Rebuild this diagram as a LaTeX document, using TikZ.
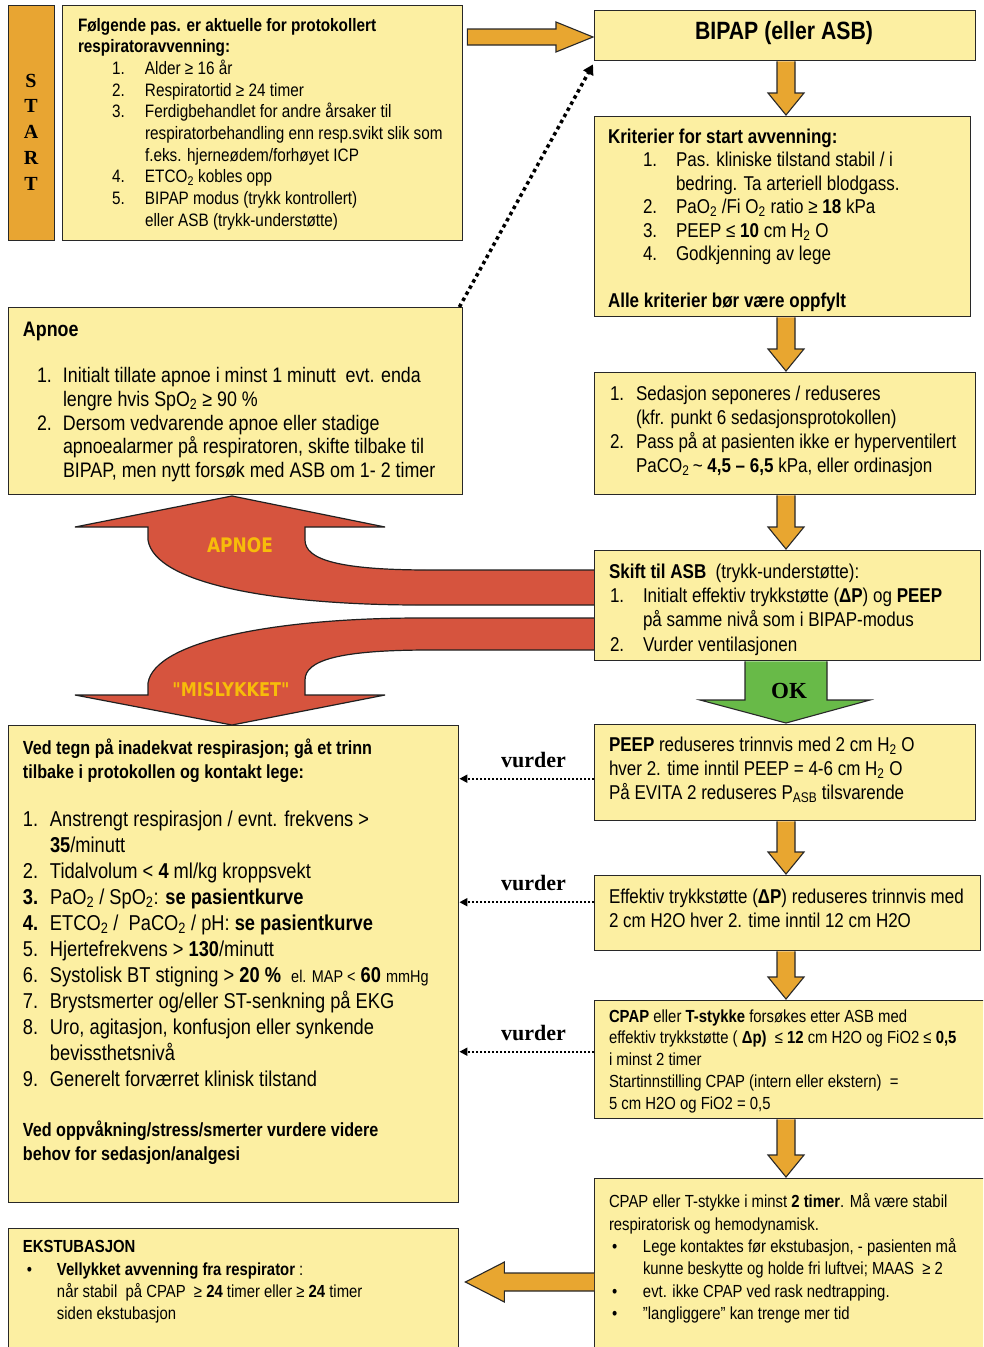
\documentclass[tikz,border=0pt]{standalone}
\usepackage{fontspec}
\setmainfont{Liberation Sans}[FakeStretch=0.85]
\newfontfamily\timesf{Liberation Serif}
\newfontfamily\lblf{DejaVu Sans}[FakeStretch=0.85]
\usetikzlibrary{calc,arrows.meta}
\definecolor{yel}{RGB}{252,239,162}
\definecolor{bord}{RGB}{40,40,40}
\definecolor{org}{RGB}{232,166,48}
\definecolor{startc}{RGB}{232,165,50}
\definecolor{redc}{RGB}{214,84,62}
\definecolor{grn}{RGB}{104,186,72}
\definecolor{lblc}{RGB}{247,188,10}
\newcommand\fz[2]{\fontsize{#1}{#2}\selectfont}
\newcommand\numit[3]{\hspace*{#1pt}\makebox[#2pt][l]{#3}}
\newcommand\ind[1]{\hspace*{#1pt}}
\newcommand\subt[1]{\textsubscript{#1}}
\newcommand\dq{\symbol{34}}
\tikzset{
  box/.style={draw=bord, fill=yel, line width=1.4pt, inner sep=0pt, anchor=north west},
  txt/.style={anchor=north west, inner sep=0pt, outer sep=0pt, align=left},
  oarr/.style={draw=bord, fill=org, line width=1.1pt, line join=miter},
  garr/.style={draw=bord, fill=grn, line width=1.1pt},
  rarr/.style={draw=bord!80!black, fill=redc, line width=1.2pt},
  vur/.style={line width=1.8pt, dash pattern=on 2pt off 2pt, -{Triangle[width=8pt,length=8pt]}},
  dotl/.style={line width=3.5pt, dash pattern=on 3.5pt off 3.5pt, -{Triangle[width=11pt,length=10pt]}},
  vurlbl/.style={font=\timesf\bfseries\fz{22}{24}, above=7pt, pos=0.45}
}
\newcommand\downarr[2]{\draw[oarr] let \p1=(#1.south -| ax), \p2=(#2.north -| ax) in
  (\x1-9pt,\y1) -- (\x1-9pt,\y2+23pt) -- (\x1-18pt,\y2+23pt) -- (\x1,\y2+1pt) -- (\x1+18pt,\y2+23pt) -- (\x1+9pt,\y2+23pt) -- (\x1+9pt,\y1);}
\begin{document}
\begin{tikzpicture}[x=1pt,y=-1pt]
\clip (0,0) rectangle (983,1347);
\fill[white] (0,0) rectangle (983,1347);
\coordinate (ax) at (786,0);
\coordinate (ya) at (0,37);
\coordinate (yb) at (0,1282);

% red arrows (drawn first, covered by the ASB box)
\draw[rarr] (600,570) -- (430,570) .. controls (340,570) and (305,560) .. (305,540) -- (305,527)
  -- (385,527) -- (232,496) -- (75,527) -- (148,527) -- (148,540)
  .. controls (155,585) and (280,605) .. (420,605) -- (600,605);
\draw[rarr] (600,650) -- (430,650) .. controls (340,650) and (305,660) .. (305,680) -- (305,695)
  -- (385,695) -- (232,725) -- (75,695) -- (148,695) -- (148,683)
  .. controls (155,640) and (280,618) .. (420,618) -- (600,618);
\node[font=\lblf\bfseries\fz{20}{22}, text=lblc] (lapnoe) at (240,545) {APNOE};
\node[font=\lblf\bfseries\fz{19}{22}, text=lblc] (lmis) at (231,690) {\dq MISLYKKET\dq};

% boxes
\node[box, fill=startc, minimum width=46pt, minimum height=235pt] (start) at (8,5) {};
\node[txt, anchor=north, align=center, font=\timesf\bfseries\fz{20}{25.7}] (tstart) at (31,74) {S\\T\\A\\R\\T};

\node[box, minimum width=400pt, minimum height=235pt] (b1) at (62,5) {};
\node[txt, font=\fz{18}{21.7}] (tb1) at (78,18) {%
\textbf{Følgende pas. er aktuelle for protokollert}\\
\textbf{respiratoravvenning:}\\
\numit{34}{33}{1.}Alder ≥ 16 år\\
\numit{34}{33}{2.}Respiratortid ≥ 24 timer\\
\numit{34}{33}{3.}Ferdigbehandlet for andre årsaker til\\
\ind{67}respiratorbehandling enn resp.svikt slik som\\
\ind{67}f.eks. hjerneødem/forhøyet ICP\\
\numit{34}{33}{4.}ETCO\subt{2} kobles opp\\
\numit{34}{33}{5.}BIPAP modus (trykk kontrollert)\\
\ind{67}eller ASB (trykk-understøtte)};

\node[box, minimum width=381pt, minimum height=50pt] (bipap) at (594,10) {};
\node[font=\bfseries\fz{25}{28}] (tbipap) at (784,33) {BIPAP (eller ASB)};

\node[box, minimum width=376pt, minimum height=200pt] (krit) at (594,116) {};
\node[txt, font=\fz{20}{23.5}] (tkrit) at (608,128.6) {%
\textbf{Kriterier for start avvenning:}\\
\numit{35}{33}{1.}Pas. kliniske tilstand stabil / i\\
\ind{68}bedring. Ta arteriell blodgass.\\
\numit{35}{33}{2.}PaO\subt{2} /Fi O\subt{2} ratio ≥ \textbf{18} kPa\\
\numit{35}{33}{3.}PEEP ≤ \textbf{10} cm H\subt{2} O\\
\numit{35}{33}{4.}Godkjenning av lege};
\node[txt, font=\bfseries\fz{20}{23.5}] (tkrit2) at (608,292.6) {Alle kriterier bør være oppfylt};

\node[box, minimum width=454pt, minimum height=187pt] (apnoe) at (8,307) {};
\node[txt, font=\bfseries\fz{21}{23.75}] (tapnoe) at (23,322) {Apnoe};
\node[txt, font=\fz{21}{23.75}] (tapnoe2) at (23,367.5) {%
\numit{14}{26}{1.}Initialt tillate apnoe i minst 1 minutt\ \ evt. enda\\
\ind{40}lengre hvis SpO\subt{2} ≥ 90 \%\\
\numit{14}{26}{2.}Dersom vedvarende apnoe eller stadige\\
\ind{40}apnoealarmer på respiratoren, skifte tilbake til\\
\ind{40}BIPAP, men nytt forsøk med ASB om 1- 2 timer};

\node[box, minimum width=381pt, minimum height=122pt] (sed) at (594,372) {};
\node[txt, font=\fz{20}{24}] (tsed) at (610,385.6) {%
\numit{0}{26}{1.}Sedasjon seponeres / reduseres\\
\ind{26}(kfr. punkt 6 sedasjonsprotokollen)\\
\numit{0}{26}{2.}Pass på at pasienten ikke er hyperventilert\\
\ind{26}PaCO\subt{2}\,\textasciitilde\ \textbf{4,5 -- 6,5} kPa, eller ordinasjon};

\node[box, minimum width=386pt, minimum height=110pt] (skift) at (594,550) {};
\node[txt, font=\fz{20}{24.3}] (tskift) at (609,563.6) {%
\textbf{Skift til ASB}\ \ (trykk-understøtte):\\
\numit{1}{33}{1.}Initialt effektiv trykkstøtte (\textbf{ΔP}) og \textbf{PEEP}\\
\ind{34}på samme nivå som i BIPAP-modus\\
\numit{1}{33}{2.}Vurder ventilasjonen};

\node[box, minimum width=381pt, minimum height=96pt] (peep) at (594,724) {};
\node[txt, font=\fz{20}{24}] (tpeep) at (609,736.6) {%
\textbf{PEEP} reduseres trinnvis med 2 cm H\subt{2} O\\
hver 2. time inntil PEEP = 4-6 cm H\subt{2} O\\
På EVITA 2 reduseres P\subt{ASB} tilsvarende};

\node[box, minimum width=386pt, minimum height=75pt] (eff) at (594,875) {};
\node[txt, font=\fz{20}{24}] (teff) at (609,888.6) {%
Effektiv trykkstøtte (\textbf{ΔP}) reduseres trinnvis med\\
2 cm H2O hver 2. time inntil 12 cm H2O};

\node[box, minimum width=392pt, minimum height=118pt] (cpap) at (594,1000) {};
\node[txt, font=\fz{17.5}{21.8}] (tcpap) at (609,1009.5) {%
\textbf{CPAP} eller \textbf{T-stykke} forsøkes etter ASB med\\
effektiv trykkstøtte ( \textbf{Δp)}\ \ ≤ \textbf{12} cm H2O og FiO2 ≤ \textbf{0,5}\\
i minst 2 timer\\
Startinnstilling CPAP (intern eller ekstern)\ \ =\\
5 cm H2O og FiO2 = 0,5};

\node[box, minimum width=392pt, minimum height=180pt] (cpap2) at (594,1178) {};
\node[txt, font=\fz{17.5}{22.4}] (tcpap2) at (609,1193.5) {%
CPAP eller T-stykke i minst \textbf{2 timer}. Må være stabil\\
respiratorisk og hemodynamisk.\\
\numit{3}{31}{•}Lege kontaktes før ekstubasjon, - pasienten må\\
\ind{34}kunne beskytte og holde fri luftvei; MAAS\ \ ≥ 2\\
\numit{3}{31}{•}evt. ikke CPAP ved rask nedtrapping.\\
\numit{3}{31}{•}\dq langliggere\dq{} kan trenge mer tid};

\node[box, minimum width=450pt, minimum height=477pt] (big) at (8,725) {};
\node[txt, font=\bfseries\fz{19}{24}] (tbig1) at (23,739) {%
Ved tegn på inadekvat respirasjon; gå et trinn\\
tilbake i protokollen og kontakt lege:};
\node[txt, font=\fz{21.5}{26}] (tbig2) at (23,811) {%
\numit{0}{27}{1.}Anstrengt respirasjon / evnt. frekvens >\\
\ind{27}\textbf{35}/minutt\\
\numit{0}{27}{2.}Tidalvolum < \textbf{4} ml/kg kroppsvekt\\
\numit{0}{27}{\textbf{3.}}PaO\subt{2} / SpO\subt{2}: \textbf{se pasientkurve}\\
\numit{0}{27}{\textbf{4.}}ETCO\subt{2} /\ \ PaCO\subt{2} / pH: \textbf{se pasientkurve}\\
\numit{0}{27}{5.}Hjertefrekvens > \textbf{130}/minutt\\
\numit{0}{27}{6.}Systolisk BT stigning > \textbf{20 \%}\ \ {\fz{17}{26}el. MAP <} \textbf{60} {\fz{17}{26}mmHg}\\
\numit{0}{27}{7.}Brystsmerter og/eller ST-senkning på EKG\\
\numit{0}{27}{8.}Uro, agitasjon, konfusjon eller synkende\\
\ind{27}bevissthetsnivå\\
\numit{0}{27}{9.}Generelt forværret klinisk tilstand};
\node[txt, font=\bfseries\fz{19}{24}] (tbig3) at (23,1121) {%
Ved oppvåkning/stress/smerter vurdere videre\\
behov for sedasjon/analgesi};

\node[box, minimum width=450pt, minimum height=130pt] (ekst) at (8,1228) {};
\node[txt, font=\fz{17.5}{22.3}] (tekst) at (23,1240.5) {%
\textbf{EKSTUBASJON}\\
\numit{4}{30}{•}\textbf{Vellykket avvenning fra respirator} :\\
\ind{34}når stabil\ \ på CPAP\ \ ≥ \textbf{24} timer eller ≥ \textbf{24} timer\\
\ind{34}siden ekstubasjon};

% OK arrow
\draw[garr] let \p1=(skift.south -| ax), \p2=(peep.north -| ax) in
  (\x1-41pt,\y1) -- (\x1-41pt,\y2+24pt) -- (\x1-86pt,\y2+24pt) -- (\x1,\y2+1pt) -- (\x1+84pt,\y2+24pt) -- (\x1+41pt,\y2+24pt) -- (\x1+41pt,\y1);
\node[font=\timesf\bfseries\fz{23}{25}] (tok) at (789,691) {OK};

% orange connectors
\draw[oarr] let \p1=(b1.east |- ya), \p2=(bipap.west |- ya) in
  (\x1+4pt,\y1+8pt) -- (\x2-38pt,\y1+8pt) -- (\x2-38pt,\y1+15pt) -- (\x2-1pt,\y1) -- (\x2-38pt,\y1-15pt) -- (\x2-38pt,\y1-8pt) -- (\x1+4pt,\y1-8pt) -- cycle;
\downarr{bipap}{krit}
\downarr{krit}{sed}
\downarr{sed}{skift}
\downarr{peep}{eff}
\downarr{eff}{cpap}
\downarr{cpap}{cpap2}
\draw[oarr] let \p1=(cpap2.west |- yb), \p2=(ekst.east |- yb) in
  (\x1,\y1+9pt) -- (\x2+45pt,\y1+9pt) -- (\x2+45pt,\y1+20pt) -- (\x2+6pt,\y1) -- (\x2+45pt,\y1-20pt) -- (\x2+45pt,\y1-9pt) -- (\x1,\y1-9pt);

% dotted connectors
\draw[dotl] ([xshift=-4pt]apnoe.north east) -- ([xshift=-1pt,yshift=-3pt]bipap.south west);
\draw[vur] ([yshift=-6pt]peep.west) -- ([yshift=-6pt]peep.west -| big.east) node[vurlbl] {vurder};
\draw[vur] ([yshift=11pt]eff.west) -- ([yshift=11pt]eff.west -| big.east) node[vurlbl] {vurder};
\draw[vur] ([yshift=8pt]cpap.west) -- ([yshift=8pt]cpap.west -| big.east) node[vurlbl] {vurder};
\end{tikzpicture}
\end{document}
